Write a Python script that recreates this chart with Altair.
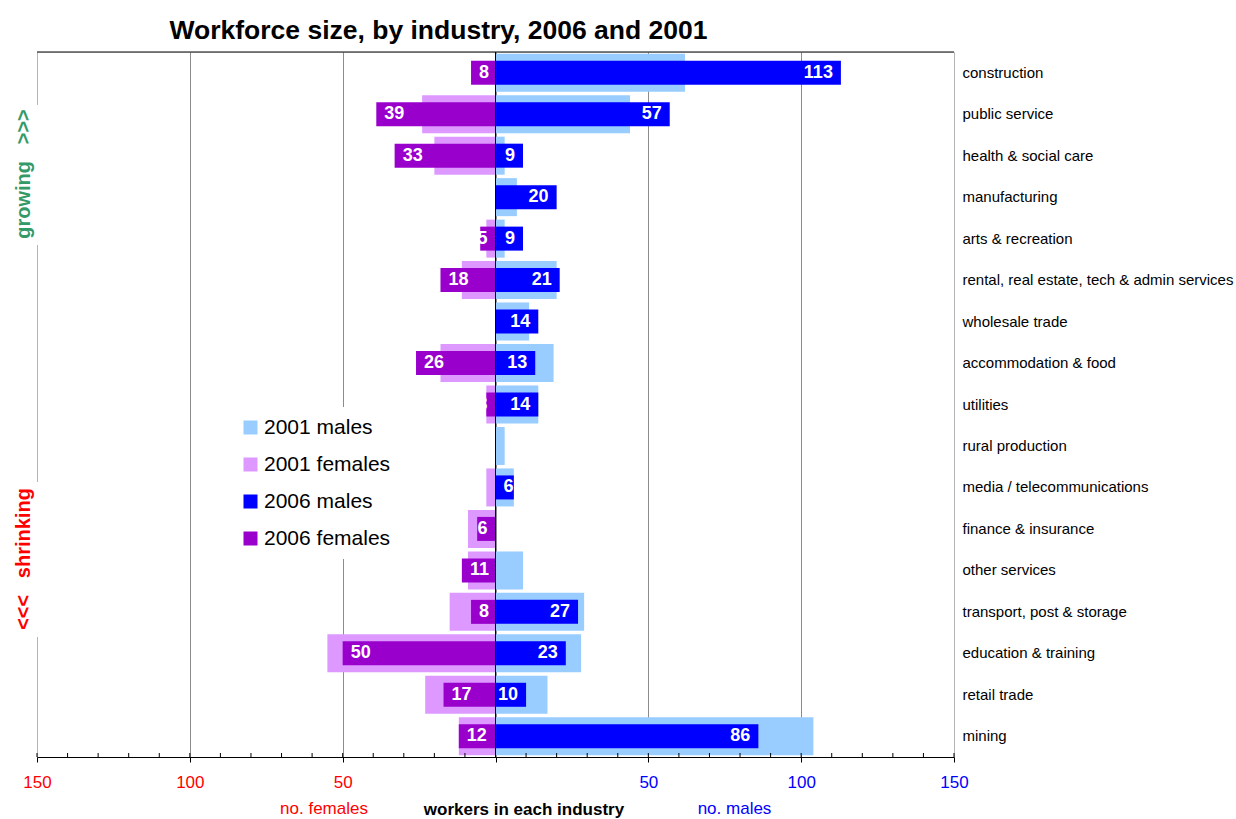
import altair as alt
import pandas as pd

# Industries, top to bottom
industries = [
    "construction",
    "public service",
    "health & social care",
    "manufacturing",
    "arts & recreation",
    "rental, real estate, tech & admin services",
    "wholesale trade",
    "accommodation & food",
    "utilities",
    "rural production",
    "media / telecommunications",
    "finance & insurance",
    "other services",
    "transport, post & storage",
    "education & training",
    "retail trade",
    "mining",
]

males_2006 = [113, 57, 9, 20, 9, 21, 14, 13, 14, 0, 6, 0, 0, 27, 23, 10, 86]
females_2006 = [8, 39, 33, 0, 5, 18, 0, 26, 3, 0, 0, 6, 11, 8, 50, 17, 12]
males_2001 = [62, 44, 3, 7, 3, 20, 11, 19, 14, 3, 6, 0, 9, 29, 28, 17, 104]
females_2001 = [0, 24, 20, 0, 3, 11, 0, 18, 3, 0, 3, 9, 9, 15, 55, 23, 12]

series_names = ["2001 males", "2001 females", "2006 males", "2006 females"]
series_colors = ["#99ccff", "#dd99ff", "#0000ff", "#9900cc"]

axis_values = [-150, -100, -50, 0, 50, 100, 150]
minor_ticks = list(range(-150, 151, 10))

FONT = "Liberation Sans"
W, H = 917, 705

series_values = {
    "2001 males": (males_2001, 1),
    "2001 females": (females_2001, -1),
    "2006 males": (males_2006, 1),
    "2006 females": (females_2006, -1),
}
rows = []
for i, name in enumerate(industries):
    for s in series_names:
        vals, sign = series_values[s]
        rows.append({"industry": name, "series": s, "count": vals[i], "signed": sign * vals[i]})
df = pd.DataFrame(rows)

x_scale = alt.Scale(domain=[-150, 150], nice=False)
x_axis = alt.Axis(
    values=axis_values,
    grid=True,
    gridColor=alt.condition("abs(datum.value) == 150", alt.value("#b5b5b5"), alt.value("#8c8c8c")),
    domainColor="black",
    tickColor="black",
    tickSize=5,
    labelExpr="datum.value == 0 ? '' : '' + abs(datum.value)",
    labelColor=alt.condition("datum.value < 0", alt.value("#ff0000"), alt.value("#0000ff")),
    labelFont=FONT,
    labelFontSize=17,
    labelPadding=12,
    labelFlush=False,
    labelOverlap=False,
    title="workers in each industry",
    titleFont=FONT,
    titleFontSize=17,
    titleFontWeight="bold",
    titleColor="black",
    titleX=486.5,
    titleY=57,
    titleBaseline="alphabetic",
    titleAlign="center",
)
y_enc = alt.Y(
    "industry:N",
    sort=industries,
    scale=alt.Scale(paddingInner=0, paddingOuter=0),
    axis=alt.Axis(
        orient="right", title=None, ticks=False, domain=False, grid=False,
        labelAlign="left", labelPadding=8, labelFont=FONT, labelFontSize=15,
        labelColor="black", labelLimit=400,
    ),
)
color_enc = alt.Color(
    "series:N",
    scale=alt.Scale(domain=series_names, range=series_colors),
    legend=alt.Legend(
        orient="none", legendX=193, legendY=355, title=None,
        symbolType="square", symbolSize=196, symbolStrokeWidth=0, symbolOpacity=1,
        labelFont=FONT, labelFontSize=21, labelColor="black", labelOffset=3,
        rowPadding=15, padding=10, fillColor="white",
    ),
)

base = alt.Chart(df)

bars_2001 = base.transform_filter("datum.series == '2001 males' || datum.series == '2001 females'").mark_bar(height=38).encode(
    x=alt.X("signed:Q", stack=None, scale=x_scale, axis=x_axis), y=y_enc, color=color_enc
)
bars_2006 = base.transform_filter("datum.series == '2006 males' || datum.series == '2006 females'").mark_bar(height=24).encode(
    x=alt.X("signed:Q", stack=None, scale=x_scale, axis=x_axis), y=y_enc, color=color_enc
)


def value_labels(test, pos_expr, align, dx):
    return base.transform_filter(test).transform_calculate(lx=pos_expr).mark_text(
        align=align, baseline="middle", dx=dx, font=FONT, fontSize=18, fontWeight="bold", color="white"
    ).encode(
        x=alt.X("lx:Q", scale=x_scale, axis=x_axis), y=y_enc, text=alt.Text("count:Q")
    )


labels = [
    value_labels("datum.series == '2006 males' && datum.count >= 8", "datum.signed", "right", -8),
    value_labels("datum.series == '2006 males' && datum.count > 0 && datum.count < 8", "0", "left", 8),
    value_labels("datum.series == '2006 females' && datum.count >= 8", "datum.signed", "left", 8),
    value_labels("datum.series == '2006 females' && datum.count > 0 && datum.count < 8", "0", "right", -8),
]

one = alt.Chart(pd.DataFrame({"k": [0]}))

zero_line = one.mark_rule(color="black", strokeWidth=1).encode(x=alt.datum(0, scale=x_scale, axis=x_axis))
top_line = one.mark_rule(color="black", strokeWidth=1).encode(y=alt.value(0))

ticks = alt.Chart(pd.DataFrame({"t": minor_ticks})).mark_rule(color="black", strokeWidth=1).encode(
    x=alt.X("t:Q", scale=x_scale, axis=x_axis), y=alt.value(H - 4), y2=alt.value(H)
)

# white backing behind the side captions
side_boxes = [
    one.mark_rect(color="white").encode(x=alt.value(-30), x2=alt.value(2), y=alt.value(53), y2=alt.value(193)),
    one.mark_rect(color="white").encode(x=alt.value(-30), x2=alt.value(2), y=alt.value(430), y2=alt.value(585)),
]
growing = one.mark_text(
    angle=270, font=FONT, fontSize=20, fontWeight="bold", color="#339966", align="center", baseline="middle"
).encode(x=alt.value(-13), y=alt.value(122), text=alt.value("growing\u00a0\u00a0\u00a0>>>"))
shrinking = one.mark_text(
    angle=270, font=FONT, fontSize=20, fontWeight="bold", color="#ff0000", align="center", baseline="middle"
).encode(x=alt.value(-13), y=alt.value(507), text=alt.value("<<<\u00a0\u00a0\u00a0shrinking"))

no_females = one.mark_text(font=FONT, fontSize=17, color="#ff0000", align="center", baseline="alphabetic").encode(
    x=alt.value(287), y=alt.value(762), text=alt.value("no. females")
)
no_males = one.mark_text(font=FONT, fontSize=17, color="#0000ff", align="center", baseline="alphabetic").encode(
    x=alt.value(697.5), y=alt.value(762), text=alt.value("no. males")
)

chart = alt.layer(
    bars_2001, bars_2006, *labels, zero_line, top_line, ticks, *side_boxes, growing, shrinking, no_females, no_males
).properties(
    width=W,
    height=H,
    autosize=alt.AutoSizeParams(type="none"),
    padding={"left": 37, "top": 52, "right": 282, "bottom": 62},
    title=alt.TitleParams(
        "Workforce size, by industry, 2006 and 2001",
        font=FONT, fontSize=26.5, fontWeight="bold", color="black",
        anchor="middle", dx=-57, dy=27, offset=13, baseline="alphabetic",
    ),
).configure_view(stroke=None).configure(background="white")

chart.save("out.html", embed_options={"renderer": "svg", "actions": False})
